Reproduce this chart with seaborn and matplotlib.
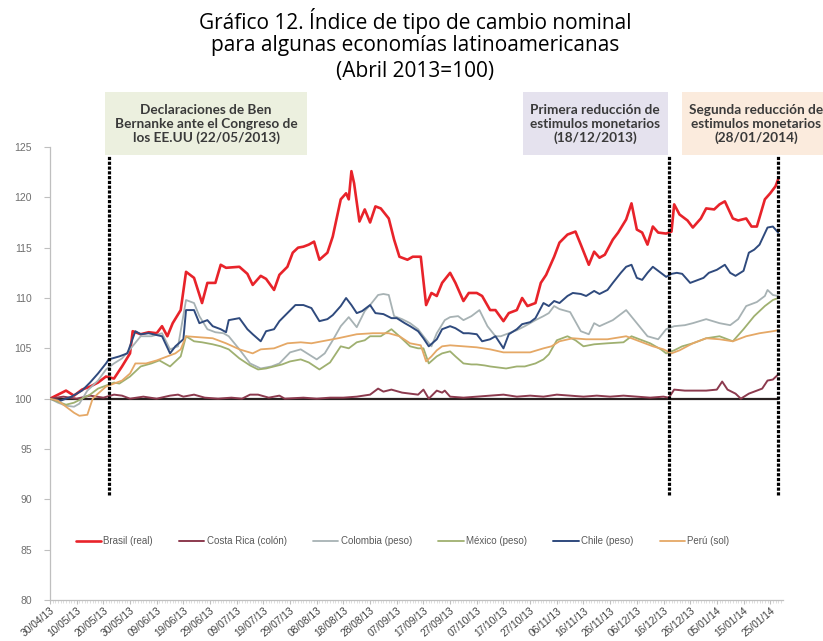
import pandas as pd
import matplotlib
matplotlib.use("Agg")
import matplotlib.pyplot as plt
import matplotlib.dates as mdates
from matplotlib.patches import Rectangle
from matplotlib.lines import Line2D
import seaborn as sns

# ---------------- data (day offset from 30/04/2013, index value) ----------------
start_date = "2013-04-30"

brasil = [(0,100.0),(3,100.4),(6,100.8),(9,100.3),(12,100.9),(15,101.2),(18,101.6),(21,102.2),(24,102.0),
          (27,103.2),(30,104.5),(31,106.7),(34,106.4),(37,106.6),(40,106.5),(42,107.2),(44,106.2),(46,107.5),
          (49,108.8),(51,112.6),(54,112.0),(57,109.5),(59,111.5),(62,111.5),(64,113.3),(66,113.0),(71,113.1),
          (74,112.4),(76,111.3),(79,112.2),(81,111.9),(84,110.8),(86,112.3),(89,113.1),(91,114.5),(93,115.0),
          (95,115.1),(97,115.3),(99,115.6),(101,113.8),(104,114.5),(106,116.1),(109,119.8),(111,120.4),
          (112,119.8),(113,122.6),(114,121.4),(116,117.6),(118,118.8),(120,117.5),(122,119.1),(124,118.9),
          (127,117.9),(129,115.8),(131,114.1),(134,113.8),(136,114.1),(139,114.1),(141,109.3),(143,110.5),
          (145,110.2),(147,111.5),(150,112.5),(152,111.5),(155,109.7),(157,110.5),(160,110.5),(162,110.2),
          (165,108.8),(167,108.8),(170,107.7),(172,108.5),(175,108.8),(177,110.0),(179,109.2),(182,109.5),
          (184,111.5),(186,112.3),(189,114.1),(191,115.5),(194,116.3),(197,116.6),(199,115.3),(202,113.3),
          (204,114.6),(206,114.0),(208,114.3),(211,115.8),(213,116.5),(216,117.8),(218,119.4),(220,116.8),
          (222,116.5),(224,115.3),(226,117.1),(228,116.5),(231,116.4),(233,116.6),(234,119.3),(236,118.3),
          (239,117.7),(241,117.0),(244,117.9),(246,118.9),(249,118.8),(251,119.3),(253,119.6),(256,117.9),
          (258,117.7),(261,117.9),(263,117.1),(265,117.1),(268,119.8),(270,120.4),(272,121.1),(273,121.8)]

costa_rica = [(0,100.0),(5,100.2),(10,100.0),(15,100.3),(20,100.1),(24,100.4),(27,100.3),(30,100.0),(35,100.2),
              (40,100.0),(45,100.3),(48,100.4),(50,100.2),(54,100.4),(58,100.1),(63,100.0),(68,100.1),(72,100.0),
              (75,100.4),(78,100.4),(82,100.1),(86,100.3),(88,100.0),(95,100.1),(100,100.0),(105,100.1),
              (110,100.1),(115,100.2),(120,100.4),(123,101.0),(125,100.7),(128,100.9),(132,100.6),(135,100.5),
              (138,100.4),(140,100.9),(142,100.0),(145,100.8),(147,100.6),(148,100.8),(150,100.2),(155,100.1),
              (160,100.2),(165,100.3),(170,100.4),(175,100.2),(180,100.3),(185,100.2),(190,100.4),(195,100.3),
              (200,100.2),(205,100.3),(210,100.2),(215,100.3),(220,100.2),(225,100.1),(230,100.2),(232,100.1),
              (234,100.9),(238,100.8),(242,100.8),(246,100.8),(250,100.9),(252,101.7),(254,100.9),(257,100.5),
              (259,100.0),(262,100.5),(265,100.8),(267,101.0),(269,101.8),(271,101.9),(273,102.4)]

colombia = [(0,100.0),(3,99.6),(6,99.3),(9,99.2),(11,99.5),(14,100.8),(18,101.8),(21,102.9),(24,103.5),(27,104.0),
            (30,104.9),(34,106.2),(38,106.2),(42,106.5),(45,104.9),(48,105.2),(51,109.8),(54,109.5),(56,108.2),
            (59,106.9),(62,106.6),(65,106.5),(67,106.2),(71,104.9),(75,103.5),(79,103.0),(83,103.2),(86,103.5),
            (90,104.6),(94,104.9),(97,104.4),(100,103.9),(103,104.5),(106,105.8),(109,107.2),(112,108.1),
            (115,107.1),(118,108.7),(120,109.3),(123,110.3),(125,110.4),(127,110.3),(129,108.2),(132,107.9),
            (135,107.5),(138,106.9),(140,106.2),(143,105.2),(145,106.5),(148,107.8),(150,108.1),(153,108.2),
            (155,107.8),(158,108.2),(161,108.8),(164,107.2),(167,106.2),(169,106.2),(172,106.5),(175,106.8),
            (178,107.2),(182,107.8),(185,108.2),(187,108.5),(189,109.2),(191,108.9),(195,108.6),(199,106.7),
            (202,106.4),(204,107.5),(206,107.2),(211,107.8),(214,108.4),(216,108.8),(220,107.5),(224,106.2),
            (228,105.9),(231,106.9),(234,107.2),(238,107.3),(241,107.5),(246,107.9),(251,107.5),(255,107.3),
            (258,107.9),(261,109.2),(265,109.6),(268,110.2),(269,110.8),(271,110.3),(273,110.2)]

mexico = [(0,100.0),(3,99.7),(6,99.4),(9,99.6),(12,100.0),(15,100.4),(18,101.0),(21,101.3),(24,101.6),(26,101.5),
          (30,102.2),(34,103.2),(38,103.5),(41,103.8),(45,103.2),(49,104.2),(51,106.2),(54,105.7),(57,105.6),
          (61,105.4),(64,105.2),(67,104.9),(71,104.0),(75,103.3),(78,102.9),(81,103.0),(84,103.2),(87,103.4),
          (90,103.7),(94,103.9),(97,103.6),(101,102.9),(105,103.6),(109,105.2),(112,105.0),(115,105.6),
          (118,105.8),(120,106.2),(124,106.2),(128,106.9),(131,106.2),(135,105.2),(138,105.0),(140,105.0),
          (142,103.5),(145,104.2),(147,104.5),(150,104.7),(152,104.2),(155,103.5),(158,103.4),(160,103.4),
          (163,103.3),(165,103.2),(168,103.1),(171,103.0),(175,103.2),(178,103.2),(182,103.5),(185,103.9),
          (187,104.4),(190,105.8),(194,106.2),(197,105.8),(200,105.2),(204,105.4),(209,105.5),(215,105.6),
          (218,106.2),(221,105.9),(225,105.5),(229,104.9),(231,104.5),(234,104.8),(237,105.2),(241,105.5),
          (246,106.0),(251,106.2),(256,105.7),(260,106.9),(264,108.2),(268,109.2),(271,109.8),(273,110.0)]

chile = [(0,100.0),(4,99.8),(8,100.2),(12,100.8),(15,101.6),(18,102.5),(21,103.5),(22,103.9),(26,104.2),(29,104.5),
         (32,106.7),(34,106.4),(37,106.5),(42,106.2),(45,104.5),(47,105.2),(50,105.9),(51,108.8),(54,108.8),
         (56,107.5),(59,107.8),(61,107.2),(64,106.9),(66,106.6),(67,107.8),(71,108.0),(74,106.9),(76,106.4),
         (79,105.7),(81,106.7),(84,106.9),(86,107.7),(89,108.5),(92,109.3),(95,109.3),(98,109.0),(101,107.7),
         (104,107.9),(106,108.3),(109,109.2),(111,110.0),(113,109.3),(115,108.5),(117,108.7),(120,109.3),
         (122,108.5),(125,108.4),(128,108.0),(130,108.0),(133,107.5),(135,107.2),(138,106.7),(140,106.0),
         (142,105.2),(145,105.9),(147,106.9),(150,107.2),(152,107.0),(155,106.5),(157,106.5),(160,106.4),
         (162,105.7),(165,105.9),(167,106.2),(170,105.0),(172,106.4),(175,106.9),(177,107.4),(180,107.6),
         (182,108.0),(185,109.5),(187,109.2),(189,109.7),(191,109.5),(194,110.2),(196,110.5),(199,110.4),
         (201,110.2),(204,110.7),(206,110.4),(209,110.8),(211,111.5),(214,112.5),(216,113.1),(218,113.3),
         (220,112.0),(222,111.8),(224,112.5),(226,113.1),(229,112.5),(231,112.1),(233,112.4),(235,112.5),
         (237,112.4),(240,111.5),(242,111.7),(245,112.0),(247,112.5),(250,112.8),(253,113.3),(255,112.5),
         (257,112.2),(260,112.7),(262,114.5),(264,114.8),(266,115.3),(269,117.0),(271,117.1),(273,116.5)]

peru = [(0,100.0),(3,99.8),(6,99.2),(9,98.6),(11,98.3),(14,98.4),(16,100.0),(18,100.5),(21,101.2),(24,101.5),
        (27,101.8),(30,102.5),(32,103.5),(36,103.5),(40,103.8),(44,104.2),(47,104.5),(49,104.9),(51,106.2),
        (56,106.1),(61,106.0),(66,105.5),(71,104.9),(76,104.5),(79,104.9),(84,105.0),(89,105.5),(94,105.6),
        (98,105.5),(102,105.7),(108,106.0),(115,106.4),(121,106.5),(127,106.5),(131,106.2),(135,105.5),
        (139,105.3),(141,103.7),(143,104.2),(145,104.8),(147,105.2),(150,105.3),(155,105.2),(160,105.1),
        (165,104.9),(170,104.6),(175,104.6),(180,104.6),(185,105.0),(188,105.2),(191,105.7),(196,106.0),
        (201,105.9),(209,105.9),(216,106.2),(221,105.7),(226,105.2),(230,104.9),(233,104.5),(236,104.8),
        (241,105.5),(246,106.0),(251,105.9),(256,105.7),(261,106.2),(266,106.5),(271,106.7),(273,106.8)]

base_line = [(0,100.0),(273,100.0)]

series_names = ["Brasil (real)", "Costa Rica (colón)", "Colombia (peso)", "México (peso)", "Chile (peso)", "Perú (sol)"]
series_data = [brasil, costa_rica, colombia, mexico, chile, peru]
series_colors = ["#e8232a", "#8c3a4e", "#a7b2b4", "#9fb070", "#2f4a7d", "#e5a866"]
series_widths = [1.9, 1.4, 1.3, 1.3, 1.4, 1.3]

event_dates = ["2013-05-22", "2013-12-18", "2014-01-28"]
event_texts = ["Declaraciones de Ben\nBernanke ante el Congreso de\nlos EE.UU (22/05/2013)",
               "Primera reducción de\nestimulos monetarios\n(18/12/2013)",
               "Segunda reducción de\nestimulos monetarios\n(28/01/2014)"]
event_colors = ["#ecf0df", "#e5e2ee", "#fbebdd"]

y_ticks = [80, 85, 90, 95, 100, 105, 110, 115, 120, 125]
title_lines = ["Gráfico 12. Índice de tipo de cambio nominal",
               "para algunas economías latinoamericanas",
               "(Abril 2013=100)"]

# ---------------- build dataframe ----------------
t0 = pd.Timestamp(start_date)
frames = []
for name, pts in zip(series_names, series_data):
    d = [p[0] for p in pts]
    v = [p[1] for p in pts]
    frames.append(pd.DataFrame({"fecha": t0 + pd.to_timedelta(d, unit="D"), "indice": v, "serie": name}))
df = pd.concat(frames, ignore_index=True)

# ---------------- figure ----------------
sns.set_theme(style="white")
plt.rcParams["font.family"] = ["Liberation Sans", "DejaVu Sans"]

W, H = 823, 641
fig = plt.figure(figsize=(W / 100, H / 100), dpi=100)
ax = fig.add_axes([50 / W, 1 - 600 / H, 733 / W, (600 - 147) / H])

# reference line at 100
bd = t0 + pd.to_timedelta([p[0] for p in base_line], unit="D")
ax.plot(bd, [p[1] for p in base_line], color="#2a2222", lw=1.6, zorder=2)

handles = []
for name, col, lw in zip(series_names, series_colors, series_widths):
    sub = df[df["serie"] == name]
    sns.lineplot(data=sub, x="fecha", y="indice", color=col, linewidth=lw, ax=ax,
                 estimator=None, sort=False, legend=False, zorder=3)
    handles.append(Line2D([0], [0], color=col, lw=lw))

# event dashed lines
ev = pd.to_datetime(event_dates)
ax.vlines(ev, 90.4, 124.2, colors="black", linewidth=2.3, linestyles=(0, (1.0, 0.5)), zorder=5)

ax.set_ylim(80, 125)
ax.set_xlim(t0, t0 + pd.Timedelta(days=274.8))
ax.set_yticks(y_ticks)
ax.set_xticks(pd.date_range(t0, periods=28, freq="10D"))
ax.xaxis.set_major_formatter(mdates.DateFormatter("%d/%m/%y"))
ax.xaxis.set_minor_locator(mdates.DayLocator())
ax.set_xlabel("")
ax.set_ylabel("")

for s in ["top", "right"]:
    ax.spines[s].set_visible(False)
for s in ["left", "bottom"]:
    ax.spines[s].set_color("#bfbfbf")
    ax.spines[s].set_linewidth(0.9)

ax.tick_params(axis="y", left=True, length=4, width=0.8, color="#bfbfbf", pad=9,
               labelsize=7.5, labelcolor="#6f6f6f")
ax.tick_params(axis="x", which="major", bottom=True, length=3, width=0.8, color="#bfbfbf",
               pad=1, labelsize=7.3, labelcolor="#404040")
ax.tick_params(axis="x", which="minor", bottom=True, length=2, width=0.5, color="#d0d0d0")
for lab in ax.get_xticklabels():
    lab.set_rotation(40)
    lab.set_ha("right")
    lab.set_rotation_mode("anchor")

leg = ax.legend(handles, series_names, ncol=6, loc="center", bbox_to_anchor=(0.481, 0.130),
                frameon=False, fontsize=7, handlelength=2.6, handletextpad=0.25, columnspacing=2.7)
for t in leg.get_texts():
    t.set_color("#595959")

# title
for i, line in enumerate(title_lines):
    fig.text(415 / W, 1 - (21 + 25 * i) / H, line, ha="center", va="center", fontsize=15,
             color="black", family=["Open Sans", "DejaVu Sans"])

# annotation boxes
boxes = [(105, 307), (523, 668), (682, 830)]
centers = [206, 595, 756]
for (x0, x1), cx, txt, col in zip(boxes, centers, event_texts, event_colors):
    fig.patches.append(Rectangle((x0 / W, 1 - 155 / H), (x1 - x0) / W, 63 / H,
                                 transform=fig.transFigure, facecolor=col, edgecolor="none", zorder=1))
    fig.text(cx / W, 1 - 124 / H, txt, ha="center", va="center", fontsize=9.8, fontweight="bold",
             color="#3a3a3a", linespacing=1.2, family=["Lato", "DejaVu Sans"], zorder=2)

fig.savefig("out.png", dpi=100)
